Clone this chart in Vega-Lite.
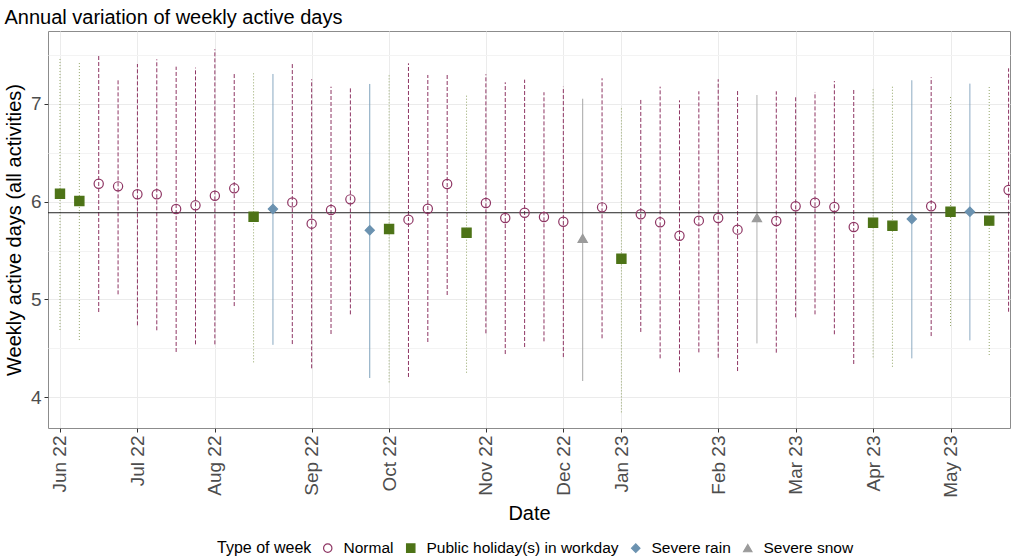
{
  "$schema": "https://vega.github.io/schema/vega-lite/v6.json",
  "autosize": {"type": "none"},
  "width": 962,
  "height": 397,
  "padding": {"left": 48, "top": 31, "right": 1, "bottom": 131},
  "background": "white",
  "title": {"text": "Annual variation of weekly active days", "anchor": "start", "fontSize": 20, "fontWeight": "normal", "color": "black", "offset": 3},
  "config": {
    "font": "Liberation Sans",
    "view": {"stroke": "#8C8C8C", "strokeWidth": 1},
    "legend": {
      "orient": "none", "legendX": 169, "legendY": 509, "direction": "horizontal",
      "titleOrient": "left", "titleFontSize": 16, "titleFontWeight": "normal", "titleColor": "black", "titlePadding": 8,
      "labelFontSize": 15.5, "labelColor": "black", "labelOffset": 8, "labelLimit": 400, "columnPadding": 9, "symbolSize": 70, "symbolStrokeWidth": 1.2
    }
  },
  "datasets": {
    "weeks": [
    {"week": "2022-06-06", "type": "Public holiday(s) in workday", "mean": 6.082, "lo": 4.687, "hi": 7.468},
    {"week": "2022-06-13", "type": "Public holiday(s) in workday", "mean": 6.007, "lo": 4.584, "hi": 7.427},
    {"week": "2022-06-20", "type": "Normal", "mean": 6.184, "lo": 4.871, "hi": 7.491},
    {"week": "2022-06-27", "type": "Normal", "mean": 6.157, "lo": 5.052, "hi": 7.253},
    {"week": "2022-07-04", "type": "Normal", "mean": 6.076, "lo": 4.735, "hi": 7.409},
    {"week": "2022-07-11", "type": "Normal", "mean": 6.076, "lo": 4.684, "hi": 7.457},
    {"week": "2022-07-18", "type": "Normal", "mean": 5.925, "lo": 4.462, "hi": 7.382},
    {"week": "2022-07-25", "type": "Normal", "mean": 5.963, "lo": 4.540, "hi": 7.372},
    {"week": "2022-08-01", "type": "Normal", "mean": 6.061, "lo": 4.540, "hi": 7.560},
    {"week": "2022-08-08", "type": "Normal", "mean": 6.137, "lo": 4.932, "hi": 7.324},
    {"week": "2022-08-15", "type": "Public holiday(s) in workday", "mean": 5.846, "lo": 4.356, "hi": 7.324},
    {"week": "2022-08-22", "type": "Severe rain", "mean": 5.925, "lo": 4.536, "hi": 7.307},
    {"week": "2022-08-29", "type": "Normal", "mean": 5.993, "lo": 4.543, "hi": 7.427},
    {"week": "2022-09-05", "type": "Normal", "mean": 5.775, "lo": 4.295, "hi": 7.253},
    {"week": "2022-09-12", "type": "Normal", "mean": 5.915, "lo": 4.646, "hi": 7.177},
    {"week": "2022-09-19", "type": "Normal", "mean": 6.024, "lo": 4.847, "hi": 7.177},
    {"week": "2022-09-26", "type": "Severe rain", "mean": 5.707, "lo": 4.196, "hi": 7.205},
    {"week": "2022-10-03", "type": "Public holiday(s) in workday", "mean": 5.721, "lo": 4.151, "hi": 7.297},
    {"week": "2022-10-10", "type": "Normal", "mean": 5.816, "lo": 4.206, "hi": 7.416},
    {"week": "2022-10-17", "type": "Normal", "mean": 5.928, "lo": 4.564, "hi": 7.297},
    {"week": "2022-10-24", "type": "Normal", "mean": 6.181, "lo": 5.045, "hi": 7.314},
    {"week": "2022-10-31", "type": "Public holiday(s) in workday", "mean": 5.683, "lo": 4.250, "hi": 7.102},
    {"week": "2022-11-07", "type": "Normal", "mean": 5.987, "lo": 4.653, "hi": 7.304},
    {"week": "2022-11-14", "type": "Normal", "mean": 5.833, "lo": 4.441, "hi": 7.222},
    {"week": "2022-11-21", "type": "Normal", "mean": 5.887, "lo": 4.513, "hi": 7.249},
    {"week": "2022-11-28", "type": "Normal", "mean": 5.843, "lo": 4.571, "hi": 7.120},
    {"week": "2022-12-05", "type": "Normal", "mean": 5.795, "lo": 4.410, "hi": 7.177},
    {"week": "2022-12-12", "type": "Severe snow", "mean": 5.625, "lo": 4.165, "hi": 7.054},
    {"week": "2022-12-19", "type": "Normal", "mean": 5.942, "lo": 4.602, "hi": 7.263},
    {"week": "2023-01-02", "type": "Public holiday(s) in workday", "mean": 5.417, "lo": 3.844, "hi": 6.976},
    {"week": "2023-01-09", "type": "Normal", "mean": 5.871, "lo": 4.667, "hi": 7.061},
    {"week": "2023-01-16", "type": "Normal", "mean": 5.789, "lo": 4.397, "hi": 7.177},
    {"week": "2023-01-23", "type": "Normal", "mean": 5.652, "lo": 4.254, "hi": 7.037},
    {"week": "2023-01-30", "type": "Normal", "mean": 5.806, "lo": 4.458, "hi": 7.130},
    {"week": "2023-02-06", "type": "Normal", "mean": 5.833, "lo": 4.403, "hi": 7.253},
    {"week": "2023-02-13", "type": "Normal", "mean": 5.714, "lo": 4.267, "hi": 7.140},
    {"week": "2023-02-20", "type": "Severe snow", "mean": 5.836, "lo": 4.550, "hi": 7.092},
    {"week": "2023-02-27", "type": "Normal", "mean": 5.802, "lo": 4.455, "hi": 7.130},
    {"week": "2023-03-06", "type": "Normal", "mean": 5.953, "lo": 4.817, "hi": 7.089},
    {"week": "2023-03-13", "type": "Normal", "mean": 5.990, "lo": 4.847, "hi": 7.123},
    {"week": "2023-03-20", "type": "Normal", "mean": 5.946, "lo": 4.643, "hi": 7.235},
    {"week": "2023-03-27", "type": "Normal", "mean": 5.741, "lo": 4.339, "hi": 7.146},
    {"week": "2023-04-03", "type": "Public holiday(s) in workday", "mean": 5.785, "lo": 4.407, "hi": 7.154},
    {"week": "2023-04-10", "type": "Public holiday(s) in workday", "mean": 5.754, "lo": 4.311, "hi": 7.194},
    {"week": "2023-04-17", "type": "Severe rain", "mean": 5.823, "lo": 4.397, "hi": 7.242},
    {"week": "2023-04-24", "type": "Normal", "mean": 5.953, "lo": 4.625, "hi": 7.273},
    {"week": "2023-05-01", "type": "Public holiday(s) in workday", "mean": 5.898, "lo": 4.728, "hi": 7.072},
    {"week": "2023-05-08", "type": "Severe rain", "mean": 5.898, "lo": 4.581, "hi": 7.208},
    {"week": "2023-05-15", "type": "Public holiday(s) in workday", "mean": 5.806, "lo": 4.431, "hi": 7.184},
    {"week": "2023-05-22", "type": "Normal", "mean": 6.120, "lo": 4.874, "hi": 7.365}
    ],
    "overall": [{"value": 5.887}]
  },
  "layer": [
    {
      "data": {"name": "weeks"},
      "mark": {"type": "rule", "strokeWidth": 1},
      "encoding": {
        "x": {
          "field": "week", "type": "ordinal", "sort": null,
          "scale": {"type": "point", "padding": 0.346, "align": 0.895},
          "axis": {
            "title": "Date", "titleFontSize": 20, "titleFontWeight": "normal", "titleColor": "black", "titlePadding": 6,
            "values": ["2022-06-06","2022-07-04","2022-08-01","2022-09-05","2022-10-03","2022-11-07","2022-12-05","2023-01-02","2023-02-06","2023-03-06","2023-04-03","2023-05-01"],
            "labelExpr": "utcFormat(toDate(datum.value), '%b %y')",
            "labelAngle": -90, "labelFontSize": 19, "labelColor": "#4D4D4D", "labelPadding": 3,
            "tickColor": "#333333", "tickSize": 4, "domain": false,
            "grid": true, "gridColor": "#EBEBEB"
          }
        },
        "y": {
          "field": "lo", "type": "quantitative",
          "scale": {"domain": [3.684, 7.747], "nice": false, "zero": false},
          "axis": {
            "title": "Weekly active days (all activities)", "titleFontSize": 20, "titleFontWeight": "normal", "titleColor": "black", "titlePadding": 6,
            "values": [4, 4.5, 5, 5.5, 6, 6.5, 7, 7.5],
            "labelExpr": "datum.value % 1 === 0 ? format(datum.value, 'd') : ''",
            "labelFontSize": 19, "labelColor": "#4D4D4D", "labelPadding": 3,
            "tickColor": "#333333", "tickSize": 4,
            "tickOpacity": {"condition": {"test": "datum.value % 1 !== 0", "value": 0}, "value": 1},
            "gridColor": {"condition": {"test": "datum.value % 1 !== 0", "value": "#F3F3F3"}, "value": "#EBEBEB"},
            "domain": false
          }
        },
        "y2": {"field": "hi"},
        "stroke": {
          "field": "type", "type": "nominal", "legend": null,
          "scale": {"range": ["#8E3563", "#93A567", "#7C9FBA", "#A6A6A6"]}
        },
        "strokeDash": {
          "field": "type", "type": "nominal", "legend": null,
          "scale": {"range": [[4, 2], [1, 2], [1, 0], [1, 0]]}
        }
      }
    },
    {
      "data": {"name": "overall"},
      "mark": {"type": "rule", "color": "#222222", "strokeWidth": 1},
      "encoding": {"y": {"field": "value", "type": "quantitative"}}
    },
    {
      "data": {"name": "weeks"},
      "mark": {"type": "point", "filled": false, "opacity": 1, "strokeWidth": 1.2, "size": 85, "clip": true},
      "encoding": {
        "x": {"field": "week", "type": "ordinal", "sort": null},
        "y": {"field": "mean", "type": "quantitative"},
        "color": {
          "field": "type", "type": "nominal", "title": "Type of week",
          "scale": {"domain": ["Normal", "Public holiday(s) in workday", "Severe rain", "Severe snow"], "range": ["#8E3563", "#4D7317", "#6B92B0", "#9B9B9B"]}
        },
        "fill": {
          "field": "type", "type": "nominal", "title": "Type of week",
          "scale": {"domain": ["Normal", "Public holiday(s) in workday", "Severe rain", "Severe snow"], "range": ["transparent", "#4D7317", "#6B92B0", "#9B9B9B"]}
        },
        "shape": {
          "field": "type", "type": "nominal", "title": "Type of week",
          "scale": {"domain": ["Normal", "Public holiday(s) in workday", "Severe rain", "Severe snow"], "range": ["circle", "square", "diamond", "triangle-up"]}
        }
      }
    }
  ]
}
